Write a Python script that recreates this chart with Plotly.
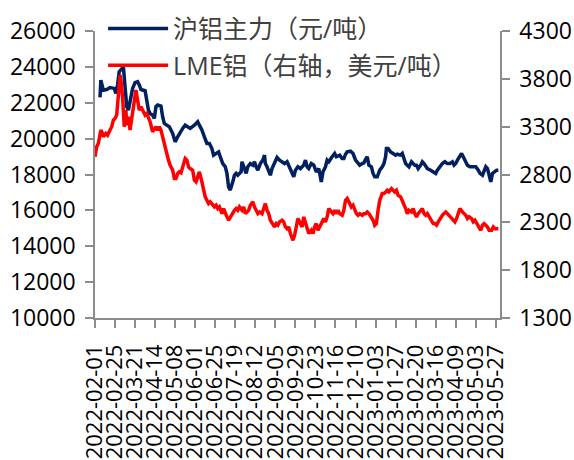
import pandas as pd
import plotly.graph_objects as go

START = pd.Timestamp("2022-02-01")

# 沪铝主力 (元/吨): trading days counted from 2022-02-01, and closing prices
sh_days = [
    6, 7, 10, 14, 18, 23, 25, 27, 29, 31,
    34, 36, 38, 40, 42, 45, 48, 51, 53, 55,
    60, 62, 64, 66, 69, 71, 73, 75, 79, 81,
    83, 86, 89, 93, 96, 99, 101, 105, 108, 111,
    114, 119, 123, 125, 128, 131, 134, 137, 140, 142,
    145, 148, 150, 153, 156, 158, 160, 162, 165, 167,
    169, 171, 175, 176, 179, 181, 183, 186, 189, 191,
    193, 195, 198, 201, 203, 204, 206, 210, 212, 215,
    218, 221, 224, 227, 230, 232, 235, 238, 240, 243,
    246, 250, 252, 254, 256, 259, 262, 265, 268, 271,
    273, 276, 278, 280, 284, 287, 289, 293, 296, 298,
    300, 302, 306, 309, 312, 314, 317, 320, 322, 324,
    326, 328, 331, 333, 335, 338, 341, 344, 346, 348,
    349, 351, 354, 357, 360, 362, 366, 368, 370, 372,
    374, 376, 379, 381, 383, 385, 387, 390, 392, 394,
    396, 398, 402, 405, 408, 410, 413, 416, 419, 422,
    425, 428, 430, 432, 434, 437, 439, 441, 443, 446,
    449, 453, 456, 459, 461, 464, 466, 468, 470, 472,
    474, 476, 479, 481, 483,
]
sh_values = [
    22300, 23260, 22700, 22740, 22850, 22800, 22520, 22990, 23730, 23820,
    24000, 22900, 21780, 21590, 22150, 22800, 23120, 23170, 22990, 22740,
    22670, 22150, 21590, 21400, 21310, 21120, 21780, 21870, 21810, 21220,
    20850, 20750, 20660, 20290, 19820, 20100, 20290, 20570, 20750, 20660,
    20570, 20750, 20940, 20750, 20480, 20100, 19730, 19730, 19450, 19080,
    19170, 19260, 18990, 18610, 18430, 18060, 17310, 17130, 17590, 17960,
    18060, 17960, 18150, 18710, 18330, 18060, 18430, 18610, 18520, 18710,
    18430, 18240, 18610, 18800, 19080, 18610, 18430, 17960, 18330, 18610,
    18950, 18800, 18710, 18610, 18710, 18520, 18150, 17870, 18240, 18430,
    18330, 18520, 18800, 18430, 18330, 18610, 18520, 18150, 18330, 17590,
    18150, 18430, 18800, 18710, 18990, 19170, 18990, 19080, 18890, 18890,
    19130, 19260, 19300, 19170, 18800, 18710, 18520, 18610, 18650, 18840,
    18990, 18520, 18430, 18060, 17870, 17870, 18240, 18430, 18610, 18990,
    19450, 19450, 19260, 19170, 19080, 19130, 19080, 19170, 18890, 18610,
    18520, 18430, 18710, 18610, 18520, 18520, 18330, 18520, 18710, 18610,
    18430, 18330, 18240, 18150, 18060, 18240, 18430, 18610, 18710, 18610,
    18610, 18710, 18520, 18610, 18800, 18990, 19170, 18990, 18800, 18520,
    18430, 18430, 18430, 18240, 18060, 17960, 18240, 18430, 18330, 17870,
    17590, 18060, 18150, 18240, 18240,
]

# LME铝 (美元/吨, right axis): trading days counted from 2022-02-01, and prices
lme_days = [
    0, 2, 4, 7, 9, 10, 13, 15, 17, 20,
    22, 24, 26, 28, 30, 31, 33, 35, 37, 38,
    40, 42, 45, 47, 49, 51, 53, 55, 58, 60,
    62, 64, 66, 69, 71, 73, 75, 77, 79, 82,
    84, 86, 88, 90, 93, 95, 97, 99, 101, 103,
    106, 108, 110, 112, 114, 117, 119, 121, 123, 125,
    128, 130, 132, 134, 136, 138, 141, 143, 145, 147,
    149, 152, 154, 156, 158, 160, 162, 165, 167, 169,
    171, 173, 176, 178, 180, 182, 184, 186, 189, 191,
    193, 195, 197, 200, 202, 204, 206, 208, 210, 213,
    215, 217, 219, 221, 224, 226, 228, 230, 232, 234,
    237, 239, 241, 243, 245, 248, 250, 252, 254, 256,
    259, 261, 263, 265, 267, 269, 272, 274, 276, 278,
    280, 283, 285, 287, 289, 291, 293, 296, 298, 300,
    302, 304, 307, 309, 311, 313, 315, 317, 320, 322,
    324, 326, 328, 331, 333, 335, 337, 339, 341, 344,
    346, 348, 350, 352, 355, 357, 359, 361, 363, 366,
    368, 370, 372, 374, 376, 379, 381, 383, 385, 387,
    390, 392, 394, 396, 398, 400, 403, 405, 407, 409,
    411, 414, 416, 418, 420, 422, 424, 427, 429, 431,
    433, 435, 437, 440, 442, 444, 446, 448, 451, 453,
    455, 457, 459, 462, 464, 466, 468, 470, 472, 475,
    477, 479, 481, 483,
]
lme_values = [
    2985, 3090, 3124, 3264, 3229, 3194, 3229, 3211, 3246, 3299,
    3368, 3386, 3421, 3682, 3839, 3787, 3613, 3299, 3473, 3316,
    3403, 3264, 3438, 3543, 3682, 3578, 3473, 3508, 3456, 3421,
    3438, 3403, 3351, 3246, 3281, 3299, 3264, 3299, 3264, 3159,
    3090, 2985, 2950, 2897, 2845, 2758, 2758, 2810, 2828, 2817,
    2915, 2967, 2950, 2880, 2862, 2845, 2740, 2723, 2775, 2828,
    2723, 2636, 2566, 2531, 2496, 2514, 2479, 2461, 2479, 2444,
    2461, 2391, 2444, 2391, 2357, 2322, 2357, 2391, 2426, 2444,
    2426, 2461, 2426, 2461, 2391, 2409, 2426, 2479, 2514, 2461,
    2426, 2391, 2409, 2391, 2444, 2496, 2426, 2391, 2322, 2287,
    2252, 2287, 2270, 2305, 2322, 2305, 2252, 2234, 2252, 2183,
    2112, 2165, 2252, 2339, 2305, 2252, 2357, 2305, 2252, 2183,
    2217, 2183, 2252, 2287, 2217, 2252, 2287, 2339, 2305, 2357,
    2444, 2409, 2391, 2426, 2391, 2426, 2391, 2374, 2426, 2531,
    2549, 2514, 2461, 2479, 2426, 2391, 2374, 2391, 2374, 2391,
    2391, 2409, 2391, 2357, 2322, 2270, 2287, 2426, 2531, 2601,
    2601, 2618, 2636, 2618, 2653, 2636, 2618, 2636, 2583, 2566,
    2531, 2496, 2444, 2391, 2426, 2409, 2444, 2391, 2357, 2391,
    2426, 2444, 2391, 2374, 2391, 2357, 2322, 2287, 2287, 2270,
    2305, 2357, 2374, 2391, 2409, 2391, 2374, 2339, 2322, 2305,
    2339, 2409, 2444, 2409, 2391, 2374, 2339, 2357, 2339, 2305,
    2322, 2287, 2252, 2217, 2270, 2287, 2270, 2252, 2217, 2217,
    2252, 2234, 2234, 2234,
]

# date-axis tick labels (every 24 days)
x_ticks = [
    "2022-02-01", "2022-02-25", "2022-03-21", "2022-04-14", "2022-05-08",
    "2022-06-01", "2022-06-25", "2022-07-19", "2022-08-12", "2022-09-05",
    "2022-09-29", "2022-10-23", "2022-11-16", "2022-12-10", "2023-01-03",
    "2023-01-27", "2023-02-20", "2023-03-16", "2023-04-09", "2023-05-03",
    "2023-05-27",
]
left_ticks = [10000, 12000, 14000, 16000, 18000, 20000, 22000, 24000, 26000]
right_ticks = [1300, 1800, 2300, 2800, 3300, 3800, 4300]

sh_dates = START + pd.to_timedelta(sh_days, unit="D")
lme_dates = START + pd.to_timedelta(lme_days, unit="D")

AXIS_GREY = "#8c8c8c"
FONT = "Open Sans, Noto Sans CJK SC, sans-serif"
LEGEND_FONT = dict(family=FONT, size=25, color="#404040")

fig = go.Figure()
fig.add_trace(go.Scatter(
    x=sh_dates, y=sh_values, name="沪铝主力（元/吨）",
    mode="lines", line=dict(color="#002060", width=3.5),
    legend="legend", yaxis="y",
))
fig.add_trace(go.Scatter(
    x=lme_dates, y=lme_values, name="LME铝（右轴，美元/吨）",
    mode="lines", line=dict(color="#FF0000", width=3.5),
    legend="legend2", yaxis="y2",
))

axis_common = dict(
    showgrid=False, zeroline=False, showline=True, automargin=False,
    linecolor=AXIS_GREY, linewidth=1.5,
    ticks="outside", ticklen=8, tickwidth=1.5, tickcolor=AXIS_GREY,
)

fig.update_layout(
    width=574, height=460,
    margin=dict(l=95, r=74, t=31, b=142, autoexpand=False),
    paper_bgcolor="white", plot_bgcolor="white",
    font=dict(family=FONT, size=23, color="#000000"),
    xaxis=dict(
        type="date", range=["2022-02-01", "2023-06-01"],
        tickvals=x_ticks, ticktext=x_ticks, tickangle=-90,
        ticklabelstandoff=8,
        tickfont=dict(family=FONT, size=22, color="#000000"),
        **axis_common,
    ),
    yaxis=dict(
        range=[10000, 26000], tickvals=left_ticks, tickformat="d",
        ticklabelstandoff=5,
        tickfont=dict(family=FONT, size=23, color="#000000"),
        **axis_common,
    ),
    yaxis2=dict(
        range=[1300, 4300], tickvals=right_ticks, tickformat="d",
        overlaying="y", side="right", ticklabelstandoff=5,
        tickfont=dict(family=FONT, size=23, color="#000000"),
        **axis_common,
    ),
    legend=dict(
        x=0.02, y=1.008, xanchor="left", yanchor="middle",
        bgcolor="rgba(0,0,0,0)", itemwidth=60, font=LEGEND_FONT,
    ),
    legend2=dict(
        x=0.02, y=0.880, xanchor="left", yanchor="middle",
        bgcolor="rgba(0,0,0,0)", itemwidth=60, font=LEGEND_FONT,
    ),
    showlegend=True,
)

fig.write_html("out.html")
